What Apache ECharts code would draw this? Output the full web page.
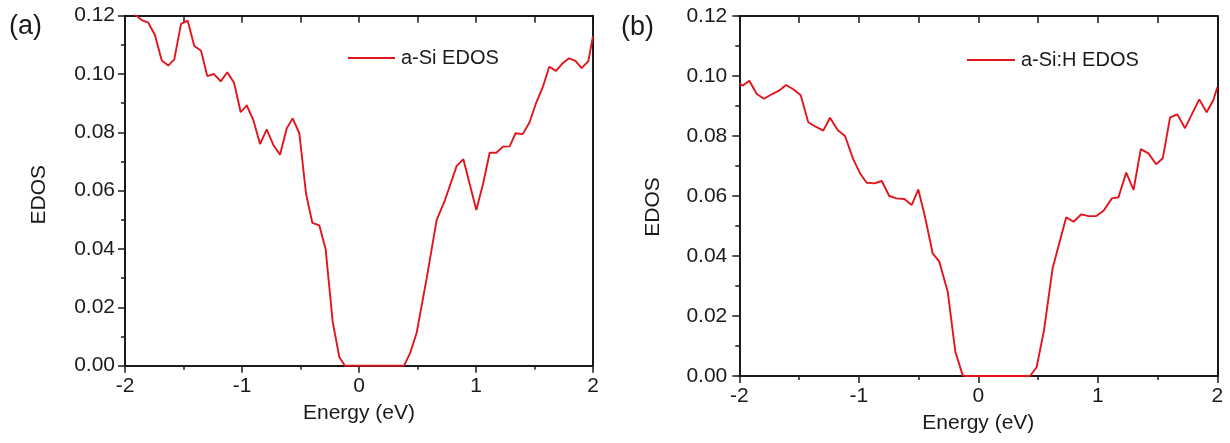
<!DOCTYPE html>
<html>
<head>
<meta charset="utf-8">
<script src="https://cdn.jsdelivr.net/npm/echarts@6/dist/echarts.min.js"></script>
<style>
html,body{margin:0;padding:0;background:#fff;}
#chart{width:1230px;height:443px;}
</style>
</head>
<body>
<div id="chart"></div>
<script>
// ---- Data ----
const xTicks = [-2, -1, 0, 1, 2];
const yTicks = [0.00, 0.02, 0.04, 0.06, 0.08, 0.10, 0.12];

const seriesNameA = 'a-Si EDOS';
const energyA = [-1.98, -1.857, -1.801, -1.744, -1.686, -1.630, -1.579, -1.521, -1.464, -1.408,
  -1.350, -1.297, -1.239, -1.182, -1.126, -1.068, -1.011, -0.960, -0.903, -0.846,
  -0.789, -0.732, -0.675, -0.618, -0.567, -0.510, -0.453, -0.399, -0.339, -0.285,
  -0.225, -0.168, -0.120, 0.385, 0.436, 0.493, 0.579, 0.664, 0.735, 0.835,
  0.892, 1.003, 1.060, 1.117, 1.174, 1.231, 1.288, 1.338, 1.399, 1.456,
  1.513, 1.570, 1.626, 1.684, 1.741, 1.795, 1.850, 1.903, 1.960, 2.0];
const edosA = [0.1225, 0.1185, 0.1176, 0.1134, 0.1046, 0.1029, 0.1050, 0.1172, 0.1183, 0.1096,
  0.1080, 0.0993, 0.1000, 0.0975, 0.1006, 0.0970, 0.0869, 0.0893, 0.0842, 0.0760,
  0.0810, 0.0757, 0.0723, 0.0813, 0.0848, 0.0797, 0.0591, 0.0490, 0.0481, 0.0399,
  0.0151, 0.0029, 0.0, 0.0, 0.0042, 0.0113, 0.0301, 0.0500, 0.0568, 0.0685,
  0.0708, 0.0534, 0.0623, 0.0730, 0.0730, 0.0751, 0.0752, 0.0797, 0.0794, 0.0833,
  0.0900, 0.0954, 0.1025, 0.1011, 0.1037, 0.1054, 0.1045, 0.1020, 0.1044, 0.1130];

const seriesNameB = 'a-Si:H EDOS';
const energyB = [-2.0, -1.97, -1.916, -1.854, -1.793, -1.729, -1.668, -1.609, -1.548, -1.486,
  -1.423, -1.361, -1.297, -1.241, -1.177, -1.115, -1.046, -0.990, -0.934, -0.870,
  -0.808, -0.745, -0.684, -0.619, -0.557, -0.502, -0.446, -0.382, -0.326, -0.256,
  -0.192, -0.131, -0.112, 0.433, 0.488, 0.550, 0.622, 0.677, 0.736, 0.797,
  0.862, 0.923, 0.987, 1.048, 1.118, 1.173, 1.238, 1.299, 1.360, 1.424,
  1.488, 1.544, 1.605, 1.666, 1.730, 1.794, 1.849, 1.911, 1.967, 2.0];
const edosB = [0.0975, 0.0968, 0.0984, 0.0940, 0.0924, 0.0939, 0.0951, 0.0970, 0.0956, 0.0936,
  0.0846, 0.0831, 0.0818, 0.0861, 0.0820, 0.0800, 0.0722, 0.0676, 0.0644, 0.0642,
  0.0650, 0.0600, 0.0592, 0.0590, 0.0570, 0.0622, 0.0531, 0.0409, 0.0381, 0.0281,
  0.0081, 0.0003, 0.0, 0.0, 0.0029, 0.0153, 0.0359, 0.0442, 0.0529, 0.0514,
  0.0539, 0.0533, 0.0533, 0.0551, 0.0592, 0.0596, 0.0678, 0.0620, 0.0756, 0.0742,
  0.0706, 0.0726, 0.0862, 0.0872, 0.0826, 0.0878, 0.0922, 0.0879, 0.0920, 0.0962];

const panelLabels = ['(a)', '(b)'];
const xTitle = 'Energy (eV)';
const yTitle = 'EDOS';

// ---- Styling ----
const FONT = "'Liberation Sans', Arial, sans-serif";
const INK = '#1a1a1a';
const RED = '#e3141c';

const xMin = xTicks[0], xMax = xTicks[xTicks.length - 1];
const xStep = xTicks[1] - xTicks[0];
const yMin = yTicks[0], yMax = yTicks[yTicks.length - 1];
const yStep = +(yTicks[1] - yTicks[0]).toFixed(4);

const grids = [
  { left: 125, top: 15.7, width: 468, height: 350 },
  { left: 739.3, top: 16, width: 478, height: 360 }
];

function bottomAxis(gi) {
  return {
    type: 'value', gridIndex: gi, position: 'bottom', min: xMin, max: xMax, interval: xStep,
    axisLine: { show: true, onZero: false, lineStyle: { color: INK, width: 2 } },
    axisTick: { show: true, inside: false, length: 7, lineStyle: { color: INK, width: 1.5 } },
    minorTick: { show: true, splitNumber: 2, length: 4, lineStyle: { color: INK, width: 1.5 } },
    splitLine: { show: false },
    axisLabel: { show: true, color: INK, fontSize: 21, fontFamily: FONT, margin: 10,
      formatter: v => String(v) },
    name: xTitle, nameLocation: 'middle', nameGap: 37,
    nameTextStyle: { color: INK, fontSize: 21, fontFamily: FONT }
  };
}
function topAxis(gi) {
  return {
    type: 'value', gridIndex: gi, position: 'top', min: xMin, max: xMax, interval: xStep / 2,
    axisLine: { show: true, onZero: false, lineStyle: { color: INK, width: 2 } },
    axisTick: { show: true, inside: true, length: 7, lineStyle: { color: INK, width: 1.5 } },
    axisLabel: { show: false }, splitLine: { show: false }
  };
}
function leftAxis(gi, nameGap, labelMargin, namePadRight) {
  return {
    type: 'value', gridIndex: gi, position: 'left', min: yMin, max: yMax, interval: yStep,
    axisLine: { show: true, onZero: false, lineStyle: { color: INK, width: 2 } },
    axisTick: { show: true, inside: false, length: 7, lineStyle: { color: INK, width: 1.5 } },
    minorTick: { show: true, splitNumber: 2, length: 4, lineStyle: { color: INK, width: 1.5 } },
    splitLine: { show: false },
    axisLabel: { show: true, color: INK, fontSize: 21, fontFamily: FONT, margin: labelMargin,
      formatter: v => v.toFixed(2) },
    name: yTitle, nameLocation: 'middle', nameRotate: 90, nameGap: nameGap,
    nameTextStyle: { color: INK, fontSize: 21, fontFamily: FONT, padding: [0, namePadRight, 0, 0] }
  };
}
function rightAxis(gi) {
  return {
    type: 'value', gridIndex: gi, position: 'right', min: yMin, max: yMax, interval: yStep,
    axisLine: { show: true, onZero: false, lineStyle: { color: INK, width: 2 } },
    axisTick: { show: false }, axisLabel: { show: false }, splitLine: { show: false }
  };
}

const pairsA = energyA.map((e, i) => [e, edosA[i]]);
const pairsB = energyB.map((e, i) => [e, edosB[i]]);

const option = {
  backgroundColor: '#ffffff',
  animation: false,
  grid: grids.map(g => Object.assign({ containLabel: false }, g)),
  xAxis: [bottomAxis(0), topAxis(0), bottomAxis(1), topAxis(1)],
  yAxis: [leftAxis(0, 75, 10, 8), rightAxis(0), leftAxis(1, 76, 12, 22), rightAxis(1)],
  legend: [
    { data: [seriesNameA], left: 348, top: 48, padding: 0, icon: 'rect', itemWidth: 47, itemHeight: 2, itemGap: 6,
      textStyle: { color: INK, fontSize: 20, fontFamily: FONT, padding: [0, 0, 0, 1] } },
    { data: [seriesNameB], left: 967, top: 50, padding: 0, icon: 'rect', itemWidth: 48, itemHeight: 2, itemGap: 6,
      textStyle: { color: INK, fontSize: 20, fontFamily: FONT, padding: [0, 0, 0, 1] } }
  ],
  graphic: [
    { type: 'text', left: 9, top: 13, style: { text: panelLabels[0], fontSize: 27, fontFamily: FONT, fill: INK } },
    { type: 'text', left: 621, top: 14, style: { text: panelLabels[1], fontSize: 27, fontFamily: FONT, fill: INK } }
  ],
  series: [
    { name: seriesNameA, type: 'line', xAxisIndex: 0, yAxisIndex: 0, data: pairsA,
      symbol: 'none', clip: true, lineStyle: { color: RED, width: 1.9 }, itemStyle: { color: RED } },
    { name: seriesNameB, type: 'line', xAxisIndex: 2, yAxisIndex: 2, data: pairsB,
      symbol: 'none', clip: true, lineStyle: { color: RED, width: 1.9 }, itemStyle: { color: RED } }
  ]
};

const chart = echarts.init(document.getElementById('chart'), null, { renderer: 'canvas' });
chart.setOption(option);
</script>
</body>
</html>
